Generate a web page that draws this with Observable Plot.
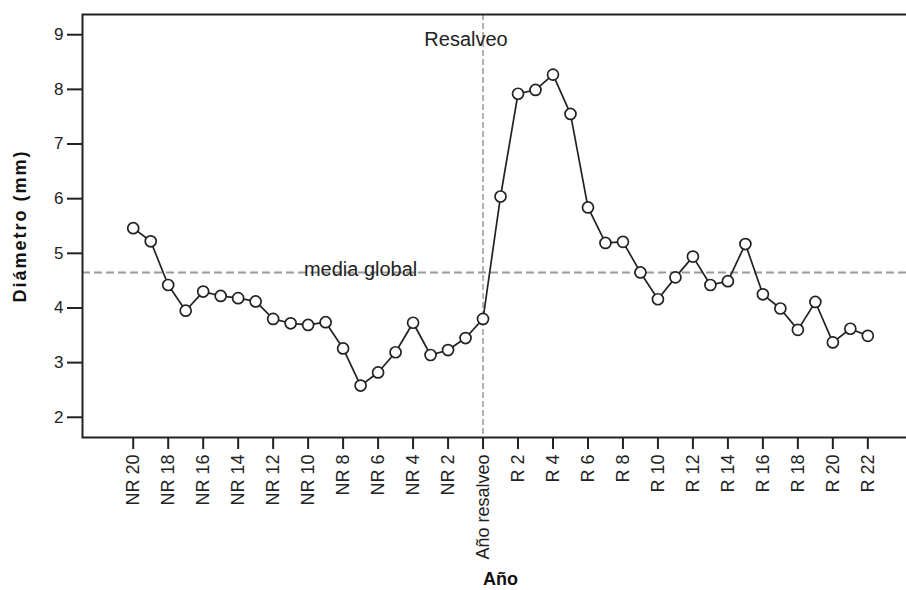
<!DOCTYPE html>
<html><head><meta charset="utf-8">
<script src="https://cdn.jsdelivr.net/npm/d3@7"></script>
<script src="https://cdn.jsdelivr.net/npm/@observablehq/plot@0.6"></script>
<style>
  body { margin: 0; background: #fff; }
  svg { font-family: "Liberation Sans", Arial, sans-serif; }
</style>
</head><body><div id="chart"></div>
<script>
const categories = [
  "NR 20","NR 19","NR 18","NR 17","NR 16","NR 15","NR 14","NR 13","NR 12","NR 11",
  "NR 10","NR 9","NR 8","NR 7","NR 6","NR 5","NR 4","NR 3","NR 2","NR 1",
  "Año resalveo",
  "R 1","R 2","R 3","R 4","R 5","R 6","R 7","R 8","R 9","R 10","R 11",
  "R 12","R 13","R 14","R 15","R 16","R 17","R 18","R 19","R 20","R 21","R 22"
];
const diameter = [
  5.46, 5.22, 4.42, 3.95, 4.30, 4.22, 4.18, 4.12, 3.80, 3.72,
  3.69, 3.74, 3.26, 2.58, 2.82, 3.19, 3.73, 3.14, 3.23, 3.45,
  3.80,
  6.04, 7.92, 7.99, 8.27, 7.55, 5.84, 5.19, 5.21, 4.65, 4.16, 4.56,
  4.94, 4.42, 4.49, 5.17, 4.25, 3.99, 3.60, 4.11, 3.37, 3.62, 3.49
];
const xTickLabels = [
  "NR 20","NR 18","NR 16","NR 14","NR 12","NR 10","NR 8","NR 6","NR 4","NR 2",
  "Año resalveo","R 2","R 4","R 6","R 8","R 10","R 12","R 14","R 16","R 18","R 20","R 22"
];
const yTicks = [2, 3, 4, 5, 6, 7, 8, 9];
const globalMean = 4.65;
const eventCategory = "Año resalveo";
const meanLabelCategory = "NR 7";
const xTitle = "Año";
const yTitle = "Diámetro (mm)";
const eventLabel = "Resalveo";
const meanLabel = "media global";

// categorical positions: index of each year in the ordered category list
const pos = c => categories.indexOf(c);
const data = categories.map((c, i) => ({i, year: c, d: diameter[i]}));

const chart = Plot.plot({
  width: 906,
  height: 590,
  marginLeft: 82,
  marginRight: -4,
  marginTop: 14,
  marginBottom: 153,
  style: {fontFamily: '"Liberation Sans", Arial, sans-serif', fontSize: "17px", color: "#222", background: "#fff"},
  x: {type: "linear", domain: [-2.9, 44.44]},
  y: {domain: [1.63, 9.37]},
  marks: [
    Plot.ruleY([globalMean], {stroke: "#9a9a9a", strokeWidth: 2, strokeDasharray: "8,4"}),
    Plot.ruleX([pos(eventCategory)], {stroke: "#9a9a9a", strokeWidth: 1.5, strokeDasharray: "6,3"}),
    Plot.text([meanLabel], {x: [pos(meanLabelCategory)], y: [globalMean], text: d => d, dy: -3, fontSize: 20, fill: "#222"}),
    Plot.text([eventLabel], {x: [pos(eventCategory)], frameAnchor: "top", lineAnchor: "middle", dy: 25, dx: -17, text: d => d, fontSize: 20, fill: "#222"}),
    Plot.line(data, {x: "i", y: "d", stroke: "#222", strokeWidth: 1.7}),
    Plot.dot(data, {x: "i", y: "d", r: 5.5, fill: "#fff", stroke: "#222", strokeWidth: 1.7}),
    Plot.frame({stroke: "#222", strokeWidth: 2}),
    Plot.axisX({ticks: xTickLabels.map(pos), tickFormat: i => categories[i], tickRotate: -90, tickSize: 12, tickPadding: 5, label: null, fontSize: 18, stroke: "#222", strokeWidth: 2}),
    Plot.axisY({ticks: yTicks, tickSize: 15, tickPadding: 4, label: null, fontSize: 17, stroke: "#222", strokeWidth: 2}),
    Plot.text([yTitle], {frameAnchor: "left", textAnchor: "middle", lineAnchor: "middle", dx: -62, rotate: -90, text: d => d, fontWeight: "bold", fontSize: 18, fill: "#111"}),
    Plot.text([xTitle], {frameAnchor: "bottom", textAnchor: "middle", lineAnchor: "middle", dy: 142, dx: 4, text: d => d, fontWeight: "bold", fontSize: 18, fill: "#111"})
  ]
});
chart.querySelectorAll("text").forEach(t => {
  if (t.textContent === yTitle) t.style.letterSpacing = "2px";
});
document.getElementById("chart").appendChild(chart);
</script>
</body></html>
